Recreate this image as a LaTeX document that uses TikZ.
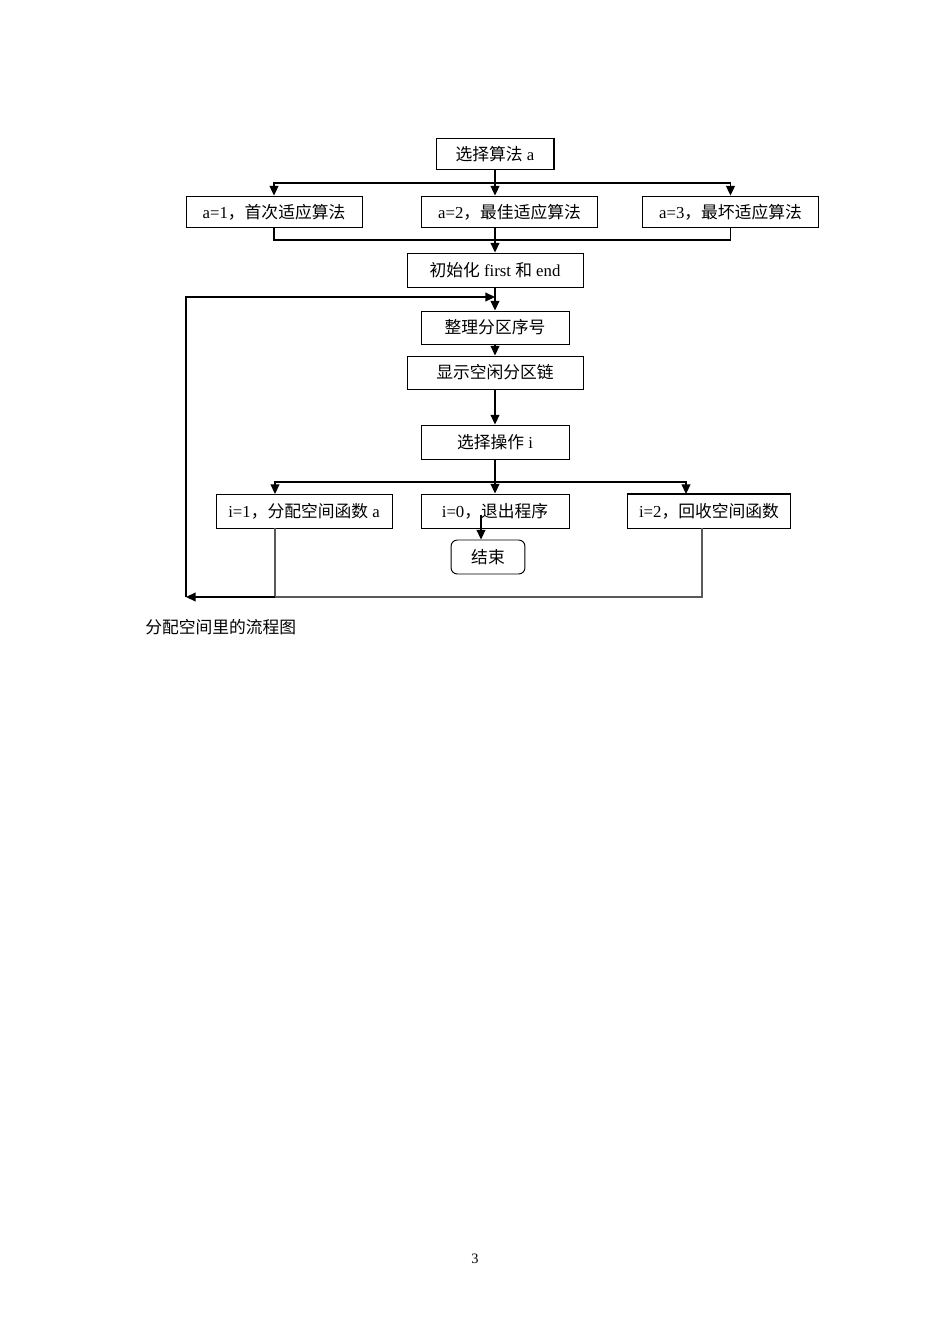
\documentclass[tikz,border=0pt]{standalone}
\usepackage{fontspec}
\setmainfont{Liberation Serif}
\newfontfamily\cjk{Noto Sans CJK SC}
\usetikzlibrary{arrows.meta}

\tikzset{
  box/.style={draw, line width=0.6pt, inner sep=1pt, font=\fontsize{10.5}{12}\selectfont},
  shadowed/.style={line width=1.1pt},
  arr/.style={-{Triangle[length=6pt,width=5.5pt]}},
  ln/.style={line width=0.8pt}
}

\begin{document}
\begin{tikzpicture}[x=0.6263pt,y=-0.6263pt]
\useasboundingbox[fill=white] (0,0) rectangle (950,1344);

% top
\node[box, minimum width=73.3pt, minimum height=20pt] (sel) at (495,154) {{\cjk 选择算法} a};
\node[box, minimum width=110.2pt, minimum height=20pt] (a1) at (274,212) {a=1{\cjk ，首次适应算法}};
\node[box, minimum width=110.2pt, minimum height=20pt] (a2) at (509.5,212) {a=2{\cjk ，最佳适应算法}};
\node[box, minimum width=110.2pt, minimum height=20pt] (a3) at (730.5,212) {a=3{\cjk ，最坏适应算法}};
\node[box, minimum width=110.2pt, minimum height=21.3pt] (init) at (495,270) {{\cjk 初始化} first {\cjk 和} end};

% loop body
\node[box, minimum width=92.7pt, minimum height=20.7pt] (sort) at (495,327.5) {\cjk 整理分区序号};
\node[box, minimum width=110.2pt, minimum height=20.7pt] (show) at (495,372.5) {\cjk 显示空闲分区链};
\node[box, minimum width=92.7pt, minimum height=21.3pt] (op) at (495,442) {{\cjk 选择操作} i};

\node[box, minimum width=110.2pt, minimum height=21.3pt] (i1) at (304,511) {i=1{\cjk ，分配空间函数} a};
\node[box, minimum width=92.7pt, minimum height=21.3pt] (i0) at (495,511) {i=0{\cjk ，退出程序}};
\node[box, minimum width=101.5pt, minimum height=21.3pt] (i2) at (709,511) {i=2{\cjk ，回收空间函数}};
\node[box, rounded corners=4pt, minimum width=46.3pt, minimum height=21.3pt] (end) at (488,557) {\cjk 结束};

% thick edges
\draw[shadowed] (sel.north east) -- (sel.south east);
\draw[shadowed] (init.north east) -- (init.south east) -- (init.south west);
\draw[shadowed] (sort.north east) -- (sort.south east) -- (sort.south west);
\draw[shadowed] (i2.north west) rectangle (i2.south east);

\coordinate (s1) at (495,183);
\coordinate (s2) at (495,240);
\coordinate (s3) at (495,482);
\coordinate (back) at (186,597);
\coordinate (top) at (186,297);
\coordinate (ex) at (481,515);

\draw[ln] (sel.south) -- (s1);
\draw[ln,arr] (s1) -- (a2.north -| s1);
\draw[ln,arr] (s1) -| (a1.north);
\draw[ln,arr] (s1) -| (a3.north);

\draw[ln] (a1.south) -- (a1.south |- s2) -- (a3.south |- s2) -- (a3.south);
\draw[ln,arr] (a2.south -| s2) -- (init.north);

\draw[ln,arr] (init.south) -- (sort.north);
\draw[ln,arr] (sort.south) -- (show.north);
\draw[ln,arr] (show.south) -- (op.north);

\draw[ln] (op.south) -- (s3);
\draw[ln,arr] (s3) -- (i0.north);
\draw[ln,arr] (s3) -| (275,494);
\draw[ln,arr] (s3) -| (686,494);

\draw[ln,arr] (ex) -- (end.north -| ex);

\draw[ln,gray!70!black] (i1.south -| 275,0) -- (275,597);
\draw[ln,gray!70!black] (i2.south -| 702,0) -- (702,597) -- (275,597);
\draw[ln,arr] (275,597) -- (back);
\draw[ln,arr] (back) -- (top) -- (sort.north |- top);

% caption and page number
\node[anchor=west, inner sep=0pt, font=\fontsize{10.5}{12}\selectfont\cjk] (cap) at (145,627) {分配空间里的流程图};
\node[inner sep=0pt, font=\fontsize{9}{10}\selectfont] (pg) at (475,1259) {3};
\end{tikzpicture}
\end{document}
